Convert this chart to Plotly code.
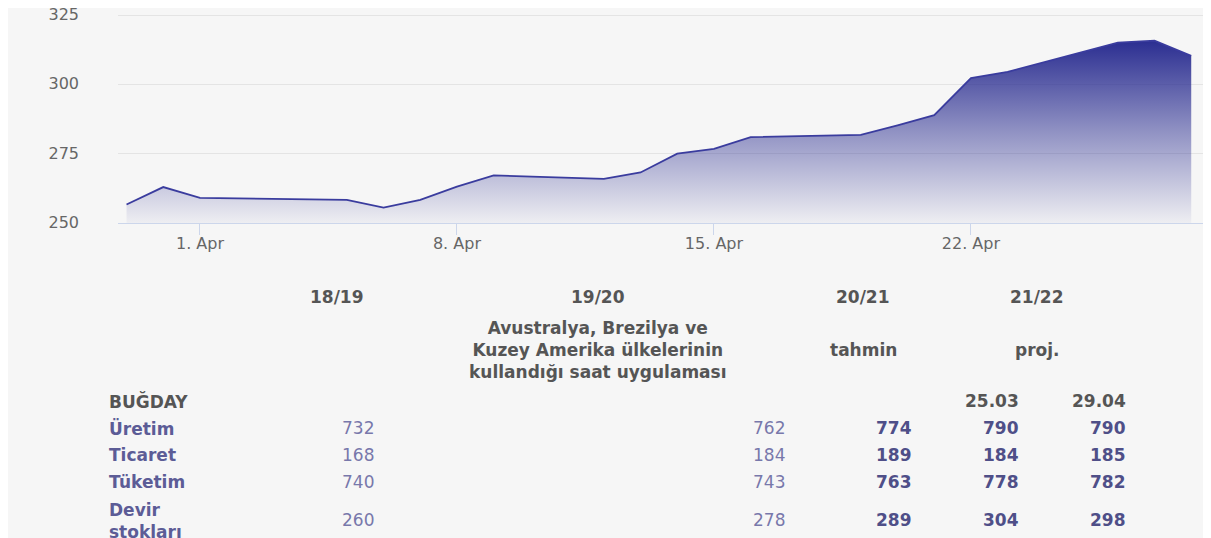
import plotly.graph_objects as go

# ---------------- data ----------------
dates = ["2021-03-30", "2021-03-31", "2021-04-01", "2021-04-05", "2021-04-06",
         "2021-04-07", "2021-04-08", "2021-04-09", "2021-04-12", "2021-04-13",
         "2021-04-14", "2021-04-15", "2021-04-16", "2021-04-19", "2021-04-20",
         "2021-04-21", "2021-04-22", "2021-04-23", "2021-04-26", "2021-04-27",
         "2021-04-28"]
prices = [256.7, 263.0, 259.1, 258.4, 255.6,
          258.4, 263.2, 267.2, 266.0, 268.3,
          275.1, 276.8, 281.1, 281.9, 285.3,
          289.0, 302.4, 304.7, 315.3, 316.0,
          310.5]
y_ticks = [250, 275, 300, 325]

years = ["18/19", "19/20", "20/21", "21/22"]
notes = ["", "Avustralya, Brezilya ve<br>Kuzey Amerika ülkelerinin<br>kullandığı saat uygulaması",
         "tahmin", "proj."]
section = "BUĞDAY"
sub_dates = ["25.03", "29.04"]
row_labels = ["Üretim", "Ticaret", "Tüketim", "Devir<br>stokları"]
val_1819 = [732, 168, 740, 260]
val_1920 = [762, 184, 743, 278]
val_2021 = [774, 189, 763, 289]
val_2122_a = [790, 184, 778, 304]
val_2122_b = [790, 185, 782, 298]

# ---------------- layout geometry (page pixels) ----------------
OFF = 8                      # browser body margin
W, H = 1203, 530             # figure size
Y_TOP = 326                  # a little headroom so the 325 gridline is drawn
PX_PER_UNIT = 207 / 75       # 250 at page y 223, 325 at page y 16
PL, PR, PB = 118, 1205, 223
PT = PB - (Y_TOP - y_ticks[0]) * PX_PER_UNIT


def px(x):
    return (x - PL) / (PR - PL)


def py(y):
    return (PB - y) / (PB - PT)


FONT = "DejaVu Sans"
BG = "#f6f6f6"
HEAD = "#555555"
LABEL = "#5c5c96"
VAL_LIGHT = "#7878ab"
VAL_BOLD = "#4f4f88"

fig = go.Figure()
base = [y_ticks[0]] * len(dates)
fig.add_trace(go.Scatter(x=dates, y=base, mode="lines",
                         line=dict(width=0, color="rgba(0,0,0,0)"),
                         hoverinfo="skip", showlegend=False))
fig.add_trace(go.Scatter(
    x=dates, y=prices, mode="lines",
    line=dict(color="rgb(58,60,158)", width=1.8),
    fill="tonexty",
    fillgradient=dict(type="vertical",
                      colorscale=[[0, "rgba(43,46,145,0.04)"],
                                  [0.5, "rgba(43,46,145,0.5)"],
                                  [1, "rgba(43,46,145,1)"]],
                      start=y_ticks[0], stop=max(prices)),
    showlegend=False))

ann = []


def add(text, x, y, anchor="center", color=HEAD, bold=True, size=17):
    ann.append(dict(text=text, x=px(x), y=py(y), xref="paper", yref="paper",
                    xanchor=anchor, yanchor="middle", showarrow=False,
                    align=anchor if anchor != "center" else "center",
                    font=dict(family=FONT, size=size, color=color,
                              weight="bold" if bold else "normal")))


# headers
year_x = [337, 598, 863, 1037]
for t, x in zip(years, year_x):
    add(t, x, 297)
for t, x in zip(notes, year_x):
    if t:
        add(t, x, 350)
add(section, 107, 401, anchor="left")
add(sub_dates[0], 1021, 401, anchor="right")
add(sub_dates[1], 1128, 401, anchor="right")

row_y = [428, 455, 482, 521]
for lab, y in zip(row_labels, row_y):
    add(lab, 107, y, anchor="left", color=LABEL)

cols = [(val_1819, 376, False), (val_1920, 787, False), (val_2021, 914, True),
        (val_2122_a, 1021, True), (val_2122_b, 1128, True)]
for vals, xr, b in cols:
    for v, y in zip(vals, row_y[:3] + [520]):
        add(str(v), xr, y, anchor="right", color=VAL_BOLD if b else VAL_LIGHT, bold=b)

shapes = [
    dict(type="rect", xref="paper", yref="paper", x0=px(1206), x1=px(1215),
         y0=py(0), y1=py(230), fillcolor="white", line=dict(width=0), layer="below"),
]

fig.update_layout(
    width=W, height=H,
    margin=dict(l=PL - OFF, r=(W + OFF) - PR, t=PT - OFF, b=(H + OFF) - PB, pad=0),
    paper_bgcolor=BG, plot_bgcolor=BG,
    annotations=ann, shapes=shapes,
    xaxis=dict(type="date", range=["2021-03-29 18:25", "2021-04-28 09:00"],
               tick0="2021-04-01", dtick=7 * 86400000, tickformat="%-d. %b",
               ticks="outside", ticklen=11, tickcolor="#ccd6eb", tickwidth=1,
               showline=True, linecolor="#ccd6eb", linewidth=1, automargin=False,
               showgrid=False, zeroline=False, ticklabelstandoff=-5,
               tickfont=dict(family=FONT, size=16, color="#666666")),
    yaxis=dict(range=[y_ticks[0], Y_TOP], tickvals=y_ticks, automargin=False,
               showgrid=True, gridcolor="#e4e4e4", gridwidth=1,
               zeroline=False, showline=False, ticks="",
               ticklabelstandoff=38, ticklabeloverflow="allow", ticklabelshift=-1,
               tickfont=dict(family=FONT, size=16, color="#666666")),
)

fig.write_html("out.html")
